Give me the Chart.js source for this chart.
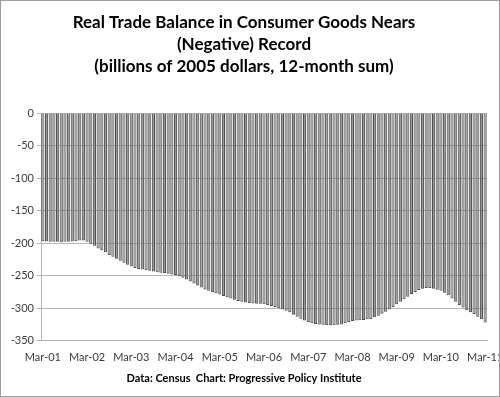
<!DOCTYPE html>
<html>
<head>
<meta charset="utf-8">
<script src="https://cdn.jsdelivr.net/npm/chart.js@4/dist/chart.umd.min.js"></script>
<style>
  html, body { margin: 0; padding: 0; background: #fff; }
  #wrap { width: 500px; height: 397px; box-sizing: border-box; border: 1px solid #9c9c9c; }
  canvas { display: block; }
</style>
</head>
<body>
<div id="wrap"><canvas id="tradeChart" width="498" height="395"></canvas></div>
<script>
// months Mar-01 .. Mar-11
const monthNames = ['Jan', 'Feb', 'Mar', 'Apr', 'May', 'Jun', 'Jul', 'Aug', 'Sep', 'Oct', 'Nov', 'Dec'];
const categories = [];
for (let i = 0; i <= 120; i++) {
    const m = (2 + i) % 12;
    const y = 1 + Math.floor((2 + i) / 12);
    categories.push(monthNames[m] + '-' + String(y).padStart(2, '0'));
}

// real trade balance, consumer goods, billions of 2005 $
const balance = [
    -197, -197.5, -198, -198, -198, -198.5, -198, -198, -197.5, -197, -196, -196,
    -198, -201, -204, -208, -211, -214, -218, -221, -224, -227, -230, -233,
    -236, -238, -239.5, -240.5, -241.5, -242.5, -243.5, -244.5, -245.5, -246, -247, -248,
    -249, -251, -253, -256, -259, -262, -265, -268, -271, -273, -275, -277,
    -279, -281, -283, -285, -287, -289, -290, -291, -292, -292.5, -293, -293,
    -294, -295, -296.5, -298, -300, -302, -304, -306, -310, -313, -316, -319,
    -321, -323, -324, -325, -325.5, -326, -326, -326, -325.5, -325, -323, -321,
    -319.5, -319, -318.5, -318, -317, -316.5, -314, -311.5, -308.5, -305.5, -302, -298,
    -294, -290, -286, -282.5, -278, -275, -272, -270, -269, -269, -270, -271.5,
    -273, -276, -280, -285, -290, -295, -299, -303, -306, -309, -313, -317,
    -322
];

const yTicks = [0, -50, -100, -150, -200, -250, -300, -350];

const titleLines = [
    'Real Trade Balance in Consumer Goods Nears',
    '(Negative) Record',
    '(billions of 2005 dollars, 12-month sum)'
];
const sourceNote = 'Data: Census  Chart: Progressive Policy Institute';

const fontFamily = 'Lato, "Open Sans", sans-serif';

const ctx = document.getElementById('tradeChart').getContext('2d');
const chart = new Chart(ctx, {
    type: 'bar',
    data: {
        labels: categories,
        datasets: [{
            data: balance,
            backgroundColor: '#979797',
            borderColor: '#4e4e4e',
            borderWidth: 1,
            borderSkipped: 'start',
            barPercentage: 0.85,
            categoryPercentage: 1
        }]
    },
    options: {
        responsive: false,
        animation: false,
        layout: { padding: { left: 0, right: 12, top: 11, bottom: 0 } },
        plugins: {
            legend: { display: false },
            tooltip: { enabled: false },
            title: {
                display: true,
                text: titleLines,
                color: '#000',
                font: { family: fontFamily, size: 17, weight: 'bold', lineHeight: 22 / 17 },
                padding: { top: 0, bottom: 35 }
            },
            subtitle: {
                display: true,
                position: 'bottom',
                text: sourceNote,
                color: '#000',
                font: { family: fontFamily, size: 11, weight: 'bold', lineHeight: 1.2 },
                padding: { top: 6, bottom: 11 }
            }
        },
        scales: {
            x: {
                grid: { display: false, drawTicks: false },
                border: { display: true, color: '#b5b5b5' },
                ticks: {
                    autoSkip: false,
                    maxRotation: 0,
                    padding: 10,
                    color: '#3a3a3a',
                    font: { family: fontFamily, size: 11 },
                    callback: function (value, index) {
                        return index % 12 === 0 ? categories[index] : '';
                    }
                },
                afterFit: function (s) {
                    s.height = 25;
                    s.paddingLeft = 0;
                    s.paddingRight = 0;
                }
            },
            y: {
                min: -350,
                max: 0,
                afterBuildTicks: function (s) {
                    s.ticks = yTicks.map(v => ({ value: v }));
                },
                grid: { color: '#b5b5b5', lineWidth: 1, tickLength: 4 },
                border: { display: true, color: '#b5b5b5' },
                ticks: {
                    padding: 3,
                    color: '#3a3a3a',
                    font: { family: fontFamily, size: 11 }
                },
                afterFit: function (s) {
                    s.width = 40;
                }
            }
        }
    }
});
</script>
</body>
</html>
